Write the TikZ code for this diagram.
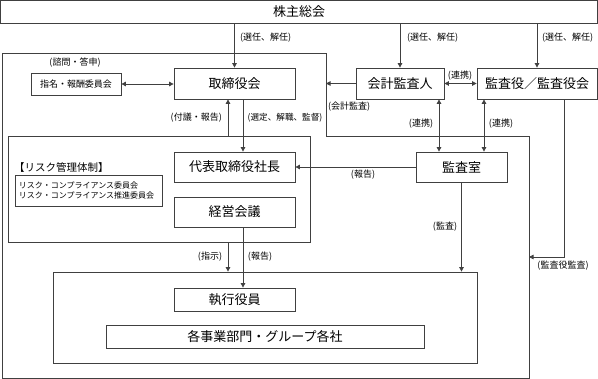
\documentclass[tikz,border=0pt]{standalone}
\usepackage{fontspec}
\setmainfont{Noto Sans CJK JP}
\usetikzlibrary{arrows.meta}
\definecolor{lc}{gray}{0.25}
\newcommand{\mainsz}{\fontsize{13}{15}\selectfont}
\newcommand{\lblsz}{\fontsize{9}{10}\selectfont}
\newcommand{\risksz}{\fontsize{8}{9.5}\selectfont}
\tikzset{
  box/.style={draw=lc, line width=0.8pt, fill=white, inner sep=0pt, font=\mainsz},
  frame/.style={draw=lc, line width=0.8pt, inner sep=0pt},
  lbl/.style={inner sep=0pt, font=\lblsz},
  arr/.style={draw=lc, line width=0.8pt, -{Triangle[length=4.5pt,width=4.5pt]}},
  darr/.style={draw=lc, line width=0.8pt, {Triangle[length=4.5pt,width=4.5pt]}-{Triangle[length=4.5pt,width=4.5pt]}},
  ln/.style={draw=lc, line width=0.8pt}
}
\begin{document}
\begin{tikzpicture}[x=1pt,y=-1pt]
\useasboundingbox (0,0) rectangle (598,379);
% helper coordinates
\coordinate (x228) at (228,0);
\coordinate (x243) at (243,0);
\coordinate (x439) at (439,0);
\coordinate (x484) at (484,0);
\coordinate (x564) at (564,0);
\coordinate (outR) at (326,0);
\coordinate (kk) at (529,257);
% outer company frame
\draw[ln] (2,53) -- (326,53) -- (326,136) -- (529,136) -- (529,378) -- (2,378) -- cycle;
% containers
\node[frame, minimum width=302pt, minimum height=106pt] (mg) at (159,189) {};
\node[frame, minimum width=424pt, minimum height=91pt] (ex) at (265,317.5) {};
% boxes
\node[box, minimum width=597pt, minimum height=22.5pt] (sh) at (299,11.75) {株主総会};
\node[box, minimum width=90pt, minimum height=22pt, font=\lblsz] (nom) at (76,84) {指名・報酬委員会};
\node[box, minimum width=121pt, minimum height=31pt] (tb) at (234.5,83.5) {取締役会};
\node[box, minimum width=88pt, minimum height=31pt] (ka) at (400,83.5) {会計監査人};
\node[box, minimum width=120pt, minimum height=31pt] (ks) at (537,83.5) {監査役／監査役会};
\node[box, minimum width=121pt, minimum height=30pt] (pres) at (234.5,167) {代表取締役社長};
\node[box, minimum width=121pt, minimum height=30pt] (keiei) at (234.5,212) {経営会議};
\node[box, minimum width=147pt, minimum height=31pt, font=\risksz, align=left, text width=139pt] (risk) at (88.5,190.5) {リスク・コンプライアンス委員会\\リスク・コンプライアンス推進委員会};
\node[box, minimum width=91pt, minimum height=30pt] (ar) at (461.5,167) {監査室};
\node[box, minimum width=121pt, minimum height=23pt] (exe) at (234.5,299.5) {執行役員};
\node[box, minimum width=318pt, minimum height=23pt] (bu) at (265,336.5) {各事業部門・グループ各社};
% connectors
\draw[arr] (sh.south -| tb.north) -- (tb.north);
\draw[arr] (sh.south -| ka.north) -- (ka.north);
\draw[arr] (sh.south -| ks.north) -- (ks.north);
\draw[darr] (nom.east) -- (nom.east -| tb.west);
\draw[darr] (ka.east) -- (ks.west);
\draw[arr] (ka.west) -- (ka.west -| outR);
\draw[arr] (mg.north -| x228) -- (tb.south -| x228);
\draw[arr] (tb.south -| x243) -- (pres.north -| x243);
\draw[darr] (ka.south -| x439) -- (ar.north -| x439);
\draw[darr] (ks.south -| x484) -- (ar.north -| x484);
\draw[arr] (ar.west) -- (pres.east);
\draw[arr] (ar.south) -- (ex.north -| ar.south);
\draw[arr] (ks.south -| x564) |- (kk);
\draw[arr] (mg.south -| x228) -- (ex.north -| x228);
\draw[arr] (keiei.south -| x243) -- (exe.north -| x243);
% labels
\node[lbl] (l1) at (75,63) {(諮問・答申)};
\node[lbl, anchor=west] (l2) at (240,38) {(選任、解任)};
\node[lbl, anchor=west] (l3) at (407,38) {(選任、解任)};
\node[lbl, anchor=west] (l4) at (542,38) {(選任、解任)};
\node[lbl] (l5) at (460,76) {(連携)};
\node[lbl, anchor=west] (l6) at (328,107) {(会計監査)};
\node[lbl, anchor=east] (l7) at (222,118) {(付議・報告)};
\node[lbl, anchor=west, font=\fontsize{8.6}{10}\selectfont] (l8) at (247.5,118) {(選定、解職、監督)};
\node[lbl, anchor=west, font=\fontsize{10.5}{12}\selectfont] (l9) at (14,168) {【リスク管理体制】};
\node[lbl] (l10) at (363,175) {(報告)};
\node[lbl] (l11) at (421,124) {(連携)};
\node[lbl] (l12) at (501,124) {(連携)};
\node[lbl] (l13) at (445,227) {(監査)};
\node[lbl] (l14) at (563,266) {(監査役監査)};
\node[lbl] (l15) at (210,257) {(指示)};
\node[lbl] (l16) at (260,257) {(報告)};
\end{tikzpicture}
\end{document}
